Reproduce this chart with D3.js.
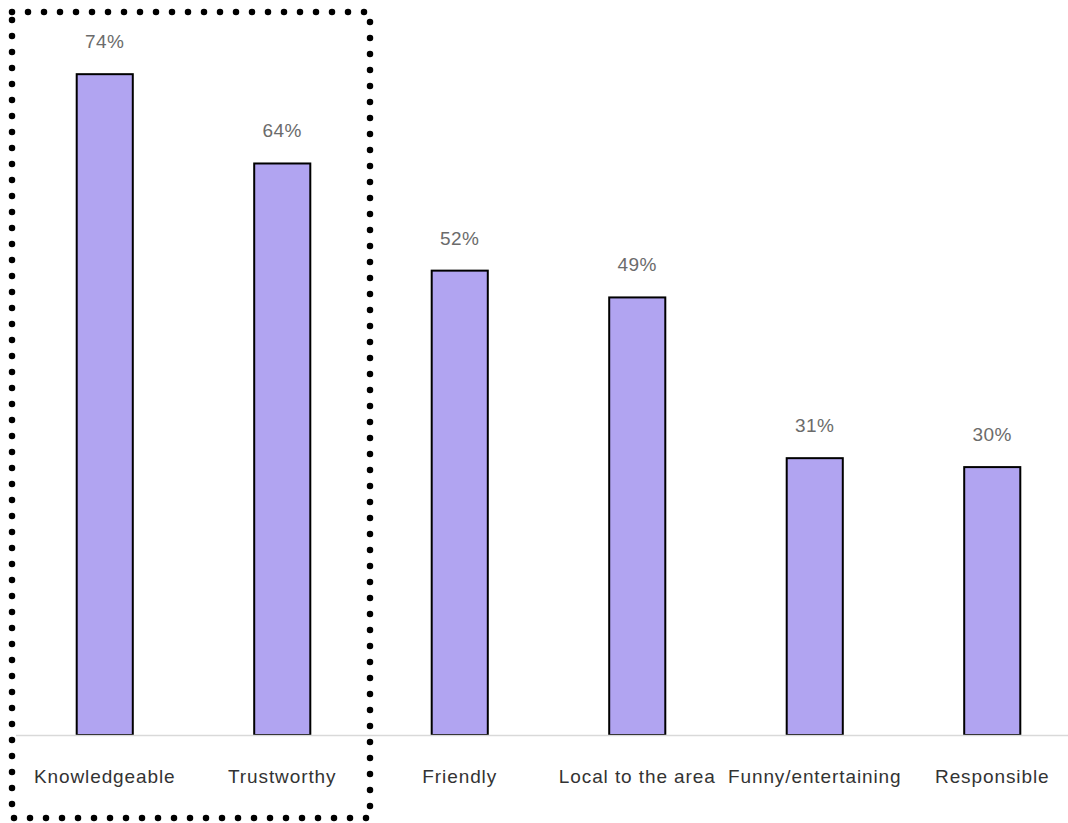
<!DOCTYPE html>
<html><head><meta charset="utf-8">
<script src="https://cdn.jsdelivr.net/npm/d3@7"></script>
<style>body{margin:0;background:#fff;}svg{display:block;}</style>
</head><body>
<svg id="chart" width="1068" height="823"></svg>
<script>
const categories = ["Knowledgeable","Trustworthy","Friendly","Local to the area","Funny/entertaining","Responsible"];
const values = [74, 64, 52, 49, 31, 30];
const valueLabels = ["74%","64%","52%","49%","31%","30%"];

const svg = d3.select("#chart");
const x = d3.scaleBand().domain(categories).range([16, 1081]).paddingInner(0.684).paddingOuter(0.342);
const y = d3.scaleLinear().domain([0, 80]).range([735, 20.6]);

// bars
svg.selectAll("rect.bar").data(values).join("rect")
  .attr("class","bar")
  .attr("x",(d,i)=>x(categories[i]))
  .attr("width",x.bandwidth())
  .attr("y",d=>y(d))
  .attr("height",d=>y(0)-y(d))
  .attr("fill","#b1a4f1")
  .attr("stroke","#000")
  .attr("stroke-width",2);

// axis baseline
svg.append("line").attr("x1",16).attr("x2",1068).attr("y1",y(0)+0.5).attr("y2",y(0)+0.5)
  .attr("stroke","#d9d9d9").attr("stroke-width",1.5);

// value labels
svg.selectAll("text.val").data(values).join("text")
  .attr("class","val")
  .attr("x",(d,i)=>x(categories[i])+x.bandwidth()/2)
  .attr("y",d=>y(d)-26)
  .attr("text-anchor","middle")
  .attr("font-family","Liberation Sans, Arial, sans-serif")
  .attr("font-size",19)
  .attr("letter-spacing",0.5)
  .attr("fill","#6b6b6b")
  .text((d,i)=>valueLabels[i]);

// category labels
svg.selectAll("text.cat").data(categories).join("text")
  .attr("class","cat")
  .attr("x",d=>x(d)+x.bandwidth()/2)
  .attr("y",783)
  .attr("text-anchor","middle")
  .attr("font-family","Liberation Sans, Arial, sans-serif")
  .attr("font-size",19)
  .attr("letter-spacing",0.9)
  .attr("fill","#333333")
  .text(d=>d);

// dotted highlight box
svg.append("rect").attr("x",12).attr("y",12).attr("width",358).attr("height",806)
  .attr("fill","none").attr("stroke","#000").attr("stroke-width",6.5)
  .attr("stroke-linecap","round").attr("stroke-dasharray","0 16");
</script>
</body></html>
